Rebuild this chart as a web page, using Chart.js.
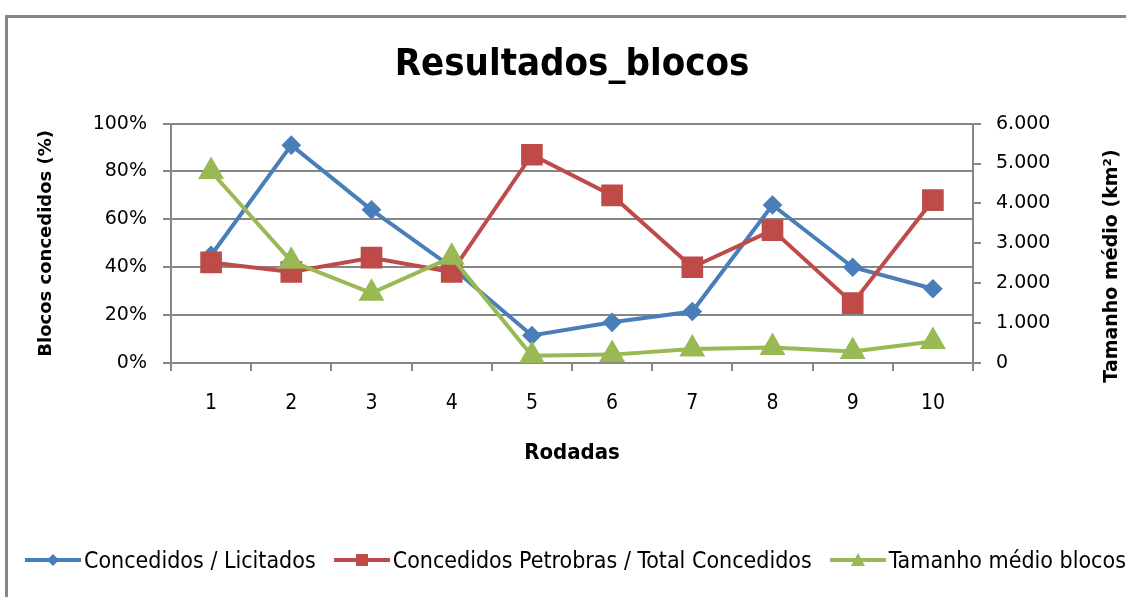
<!DOCTYPE html>
<html>
<head>
<meta charset="utf-8">
<script src="https://cdn.jsdelivr.net/npm/chart.js@4.4.0/dist/chart.umd.min.js"></script>
<style>
  html, body { margin: 0; padding: 0; background: #fff; overflow: hidden; }
  #wrap { position: relative; width: 1126px; height: 597px; }
  #frame { position: absolute; left: 5px; top: 15px; width: 1300px; height: 800px; border: 3px solid #868686; box-sizing: border-box; }
  #c { position: absolute; left: 0; top: 0; }
  #legend { position: absolute; left: 25px; top: 547px; white-space: nowrap; line-height: 26px;
    font-family: "DejaVu Sans Condensed", sans-serif; font-size: 23px; color: #000; }
  #legend span.item { display: inline-flex; align-items: center; margin-right: 18px; }
  #legend svg { margin-right: 3px; }
</style>
</head>
<body>
<div id="wrap">
  <div id="frame"></div>
  <canvas id="c" width="1126" height="597"></canvas>
  <div id="legend"></div>
</div>
<script>
  const rodadas = ['1', '2', '3', '4', '5', '6', '7', '8', '9', '10'];
  const concedidosLicitados = [45, 91, 64, 40, 11.5, 17, 21.5, 66, 40, 31];
  const petrobrasTotal = [42, 38, 44, 38, 87, 70, 40, 55.5, 25, 68];
  const tamanhoMedio = [4800, 2550, 1750, 2650, 180, 210, 350, 390, 290, 540];

  const seriesNames = ['Concedidos / Licitados', 'Concedidos Petrobras / Total Concedidos', 'Tamanho médio blocos'];
  const seriesColors = ['#4A7EBB', '#BE4B48', '#98B954'];

  const grey = '#868686';
  const narrow = '"DejaVu Sans Condensed", sans-serif';

  // right axis title reads bottom-to-top like the left one, so draw it by hand
  const rightTitle = {
    id: 'rightTitle',
    afterDraw(chart) {
      const ctx = chart.ctx;
      ctx.save();
      ctx.translate(1112, 266);
      ctx.rotate(-Math.PI / 2);
      ctx.font = 'bold 19px "DejaVu Sans"';
      ctx.fillStyle = '#000';
      ctx.textAlign = 'center';
      ctx.textBaseline = 'middle';
      ctx.fillText('Tamanho médio (km²)', 0, 0);
      ctx.restore();
    }
  };

  document.addEventListener('DOMContentLoaded', () => {
    const ctx = document.getElementById('c').getContext('2d');
    try {
      new Chart(ctx, {
        type: 'line',
        data: {
          labels: rodadas,
          datasets: [{
            label: seriesNames[0],
            data: concedidosLicitados,
            yAxisID: 'y',
            borderColor: seriesColors[0],
            backgroundColor: seriesColors[0],
            borderWidth: 4,
            pointStyle: 'rectRot',
            pointRadius: 7,
            order: 3
          }, {
            label: seriesNames[1],
            data: petrobrasTotal,
            yAxisID: 'y',
            borderColor: seriesColors[1],
            backgroundColor: seriesColors[1],
            borderWidth: 4,
            pointStyle: 'rect',
            pointRadius: 12.5,
            order: 2
          }, {
            label: seriesNames[2],
            data: tamanhoMedio,
            yAxisID: 'y2',
            borderColor: seriesColors[2],
            backgroundColor: seriesColors[2],
            borderWidth: 4,
            pointStyle: 'triangle',
            pointRadius: 11,
            order: 1
          }]
        },
        options: {
          responsive: false,
          animation: false,
          layout: { padding: { left: 18, right: 0, top: 0, bottom: 0 } },
          plugins: {
            legend: { display: false },
            tooltip: { enabled: false },
            title: {
              display: true,
              text: 'Resultados_blocos',
              color: '#000',
              font: { family: narrow, size: 38, weight: 'bold' },
              padding: { top: 42, bottom: 36 }
            }
          },
          scales: {
            x: {
              offset: true,
              grid: { display: true, offset: true, drawOnChartArea: false, color: grey, lineWidth: 2, tickLength: 8 },
              border: { display: true, color: grey, width: 2 },
              ticks: { color: '#000', font: { family: narrow, size: 21 }, padding: 20, maxRotation: 0 },
              title: {
                display: true, text: 'Rodadas', color: '#000',
                font: { family: narrow, size: 22, weight: 'bold' },
                padding: { top: 0, bottom: 131 }
              },
              afterFit(scale) { scale.height = 234; }
            },
            y: {
              position: 'left',
              min: 0, max: 100,
              grid: { color: grey, lineWidth: 2, tickLength: 8 },
              border: { display: true, color: grey, width: 2 },
              ticks: {
                stepSize: 20, color: '#000', padding: 16,
                font: { family: 'DejaVu Sans', size: 19 },
                callback: v => v + '%'
              },
              title: {
                display: true, text: 'Blocos concedidos (%)', color: '#000',
                font: { family: 'DejaVu Sans', size: 18, weight: 'bold' },
                padding: { top: 18, bottom: 0 }
              },
              afterFit(scale) { scale.width = 153; }
            },
            y2: {
              position: 'right',
              min: 0, max: 6000,
              grid: { drawOnChartArea: false, color: grey, lineWidth: 2, tickLength: 8 },
              border: { display: true, color: grey, width: 2 },
              ticks: {
                stepSize: 1000, color: '#000', padding: 15,
                font: { family: 'DejaVu Sans', size: 19 },
                callback: v => v === 0 ? '0' : (v / 1000).toFixed(0) + '.000'
              },
              afterFit(scale) { scale.width = 153; }
            }
          }
        },
        plugins: [rightTitle]
      });
    } catch (error) {
      console.error("Chart.js Error: ", error);
    }

    // legend in the Excel style: line with its marker in the middle
    const shapes = [
      '<path d="M28 4 L34 10 L28 16 L22 10 Z"/>',
      '<rect x="22" y="4" width="12" height="12"/>',
      '<path d="M28 3 L35 16 L21 16 Z"/>'
    ];
    const legend = document.getElementById('legend');
    legend.innerHTML = seriesNames.map((name, i) =>
      '<span class="item"><svg width="56" height="20" fill="' + seriesColors[i] + '">' +
      '<line x1="0" y1="10" x2="56" y2="10" stroke="' + seriesColors[i] + '" stroke-width="4"/>' +
      shapes[i] + '</svg>' + name + '</span>'
    ).join('');
  });
</script>
</body>
</html>
